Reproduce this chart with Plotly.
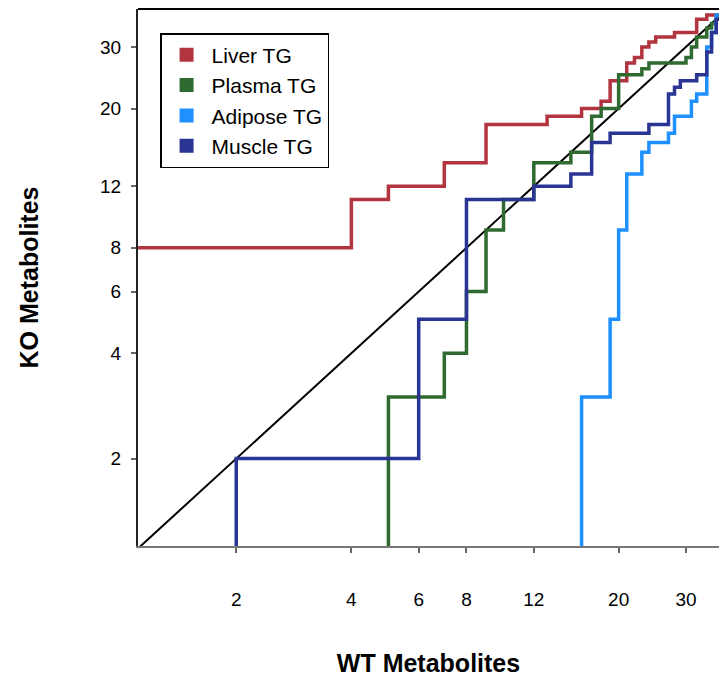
import plotly.graph_objects as go

# ---- data ----
tick_vals = [2, 4, 6, 8, 12, 20, 30]
tick_text = ["2", "4", "6", "8", "12", "20", "30"]

series_names = ["Liver TG", "Plasma TG", "Adipose TG", "Muscle TG"]
series_colors = ["#b2343e", "#2f6a31", "#1e90ff", "#2a3593"]

liver_wt = [1, 4, 5, 7, 9, 13, 16, 18, 19, 21, 22, 23, 24, 25, 28, 32, 34, 40]
liver_ko = [8, 11, 12, 14, 18, 19, 20, 21, 24, 27, 28, 30, 31, 32, 33, 36, 37, 37]

plasma_wt = [5, 5, 7, 8, 9, 10, 12, 15, 17, 18, 20, 23, 24, 30, 31, 32, 34, 35, 36, 40]
plasma_ko = [1, 3, 4, 6, 9, 11, 14, 15, 19, 20, 25, 26, 27, 28, 30, 32, 34, 35, 36, 36]

adipose_wt = [16, 16, 19, 20, 21, 23, 24, 27, 28, 31, 32, 34, 35, 36, 40]
adipose_ko = [1, 3, 5, 9, 13, 15, 16, 17, 19, 21, 22, 30, 33, 37, 37]

muscle_wt = [2, 2, 6, 8, 12, 15, 17, 19, 24, 27, 28, 29, 32, 34, 35, 36, 40]
muscle_ko = [1, 2, 5, 11, 12, 13, 16, 17, 18, 22, 23, 24, 25, 29, 33, 36, 36]

identity = [1, 40]

FONT = "Liberation Sans, Arial, Helvetica, sans-serif"

fig = go.Figure()

# identity line
fig.add_trace(go.Scatter(x=identity, y=identity, mode="lines",
                         line=dict(color="black", width=2),
                         showlegend=False, hoverinfo="skip"))

all_wt = [liver_wt, plasma_wt, adipose_wt, muscle_wt]
all_ko = [liver_ko, plasma_ko, adipose_ko, muscle_ko]
for name, color, wt, ko in zip(series_names, series_colors, all_wt, all_ko):
    fig.add_trace(go.Scatter(x=wt, y=ko, mode="lines", line_shape="hv",
                             line=dict(color=color, width=3.5),
                             name=name, legendgroup=name, showlegend=False))
for name, color in zip(series_names, series_colors):
    fig.add_trace(go.Scatter(x=[None], y=[None], mode="markers",
                             marker=dict(symbol="square", size=14, color=color),
                             name=name, legendgroup=name, showlegend=True))

axis_common = dict(
    type="log", tickvals=tick_vals, ticktext=tick_text,
    ticks="outside", ticklen=5, tickwidth=1.5, tickcolor="#666",
    showgrid=False, zeroline=False, showline=True,
    tickfont=dict(family=FONT, size=19, color="black"),
)

fig.update_layout(
    width=719, height=677,
    margin=dict(l=138, r=0, t=9, b=128),
    paper_bgcolor="white", plot_bgcolor="white",
    font=dict(family=FONT, color="black"),
    xaxis=dict(axis_common, range=[0.0441, 1.5635], linecolor="#777", linewidth=2,
               ticklabelstandoff=30,
               title=dict(text="WT Metabolites", standoff=50,
                          font=dict(family=FONT, size=25, weight="bold"))),
    yaxis=dict(axis_common, range=[0.0512, 1.5855], linecolor="#222", linewidth=2,
               ticklabelstandoff=6,
               title=dict(text="KO Metabolites", standoff=54,
                          font=dict(family=FONT, size=25, weight="bold"))),
    legend=dict(x=0.038, y=0.955, xanchor="left", yanchor="top",
                bordercolor="black", borderwidth=1.5, bgcolor="white",
                tracegroupgap=0, itemwidth=40,
                font=dict(family=FONT, size=21)),
    shapes=[dict(type="line", xref="paper", yref="paper", x0=0, x1=1, y0=1, y1=1,
                 line=dict(color="black", width=2))],
)

fig.write_html(
    "out.html",
    config={"displayModeBar": False},
    post_script="document.body.style.margin='0';document.body.style.overflow='hidden';",
)
